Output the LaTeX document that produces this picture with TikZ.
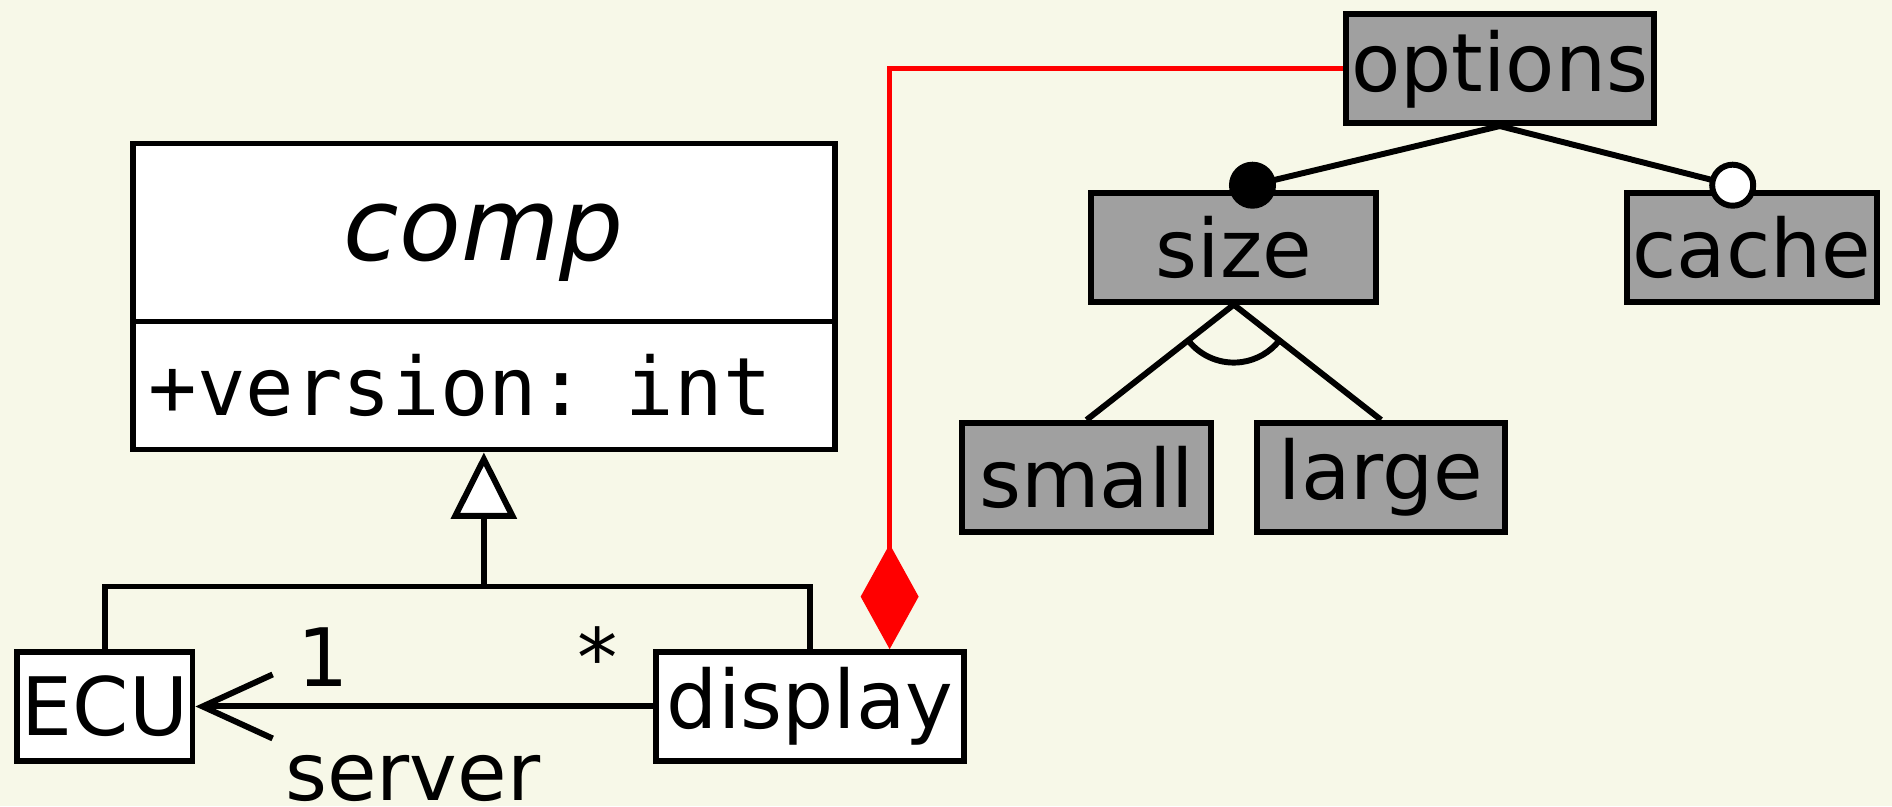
\documentclass[tikz,border=0pt]{standalone}
\usepackage{fontspec}
\setmainfont{DejaVu Sans}
\setmonofont{DejaVu Sans Mono}
\definecolor{colorBackground}{HTML}{F7F8E8}
\definecolor{colorFeature}{HTML}{A0A0A0}
\colorlet{colorLink}{red}
\usetikzlibrary{arrows.meta, positioning}
\tikzset{
  classbox/.style={draw, fill=white, line width=1.4pt, inner sep=0pt, minimum height=0.9cm},
  featurebox/.style={draw, fill=colorFeature, line width=1.4pt, inner sep=0pt, minimum height=0.9cm},
  multiplicity/.style={inner sep=4pt},
  mandatory/.style={circle, draw, fill=black, line width=1.4pt, inner sep=0pt, minimum size=0.34cm},
  optional/.style={mandatory, fill=white},
}

\begin{document}
\begin{tikzpicture}[x=0.01cm, y=0.01cm, line width=1.4pt, font=\fontsize{19}{23}\selectfont]
\fill[colorBackground] (0,0) rectangle (1568,-668);
\useasboundingbox (0,0) rectangle (1568,-668);
% class side
\node[classbox, minimum width=5.81cm, minimum height=1.475cm, text depth=0pt, font=\fontsize{23.8}{28}\selectfont\itshape] (compName) at (401,-192.75) {comp};
\node[classbox, minimum width=5.81cm, minimum height=1.06cm, inner xsep=0.13cm, text width=5.55cm, align=left, font=\fontsize{19}{23}\selectfont\ttfamily] (compAttr) at (401,-319.5) {+version: int};
\node[classbox, minimum width=1.45cm] (ECU) at (87,-585.5) {ECU};
\node[classbox, minimum width=2.55cm, right=3.79cm of ECU] (display) {display};
\coordinate (gen) at ([yshift=-1.11cm]compAttr.south);
\draw (ECU.north) |- (gen) -| (display.north);
\draw[-{Triangle[fill=white, length=0.55cm, width=0.54cm]}] (gen) -- (compAttr.south);
\draw[-{Straight Barb[length=0.58cm, width=0.53cm]}] (display) --
  node[multiplicity, pos=0.72, above] (multOne) {1}
  node[multiplicity, pos=0.12, above] (multMany) {*}
  node[multiplicity, pos=0.525, below=0.24cm] (roleServer) {server} (ECU);
% feature side
\node[featurebox, minimum width=2.55cm] (options) at (1243,-57) {options};
\node[featurebox, minimum width=2.36cm] (size) at (1022.5,-205) {size};
\node[featurebox, minimum width=2.07cm] (cache) at (1452,-205) {cache};
\node[featurebox, minimum width=2.06cm] (small) at (900.5,-395.5) {small};
\node[featurebox, minimum width=2.06cm, right=0.33cm of small] (large) {large};
\draw (options.south) -- ([shift={(0.155cm,0.04cm)}]size.north) node[mandatory] (sizeDot) {};
\draw (options.south) -- ([shift={(-0.16cm,0.04cm)}]cache.north) node[optional] (cacheDot) {};
\draw (size.south) -- (small.north);
\draw (size.south) -- (large.north);
\draw ([shift={(218:0.48cm)}]size.south) arc[start angle=218, end angle=322, radius=0.48cm];
\draw[colorLink, line width=1.2pt, -{Diamond[length=0.87cm, width=0.48cm]}] (options.west) -| ([xshift=0.66cm]display.north);
\end{tikzpicture}
\end{document}
